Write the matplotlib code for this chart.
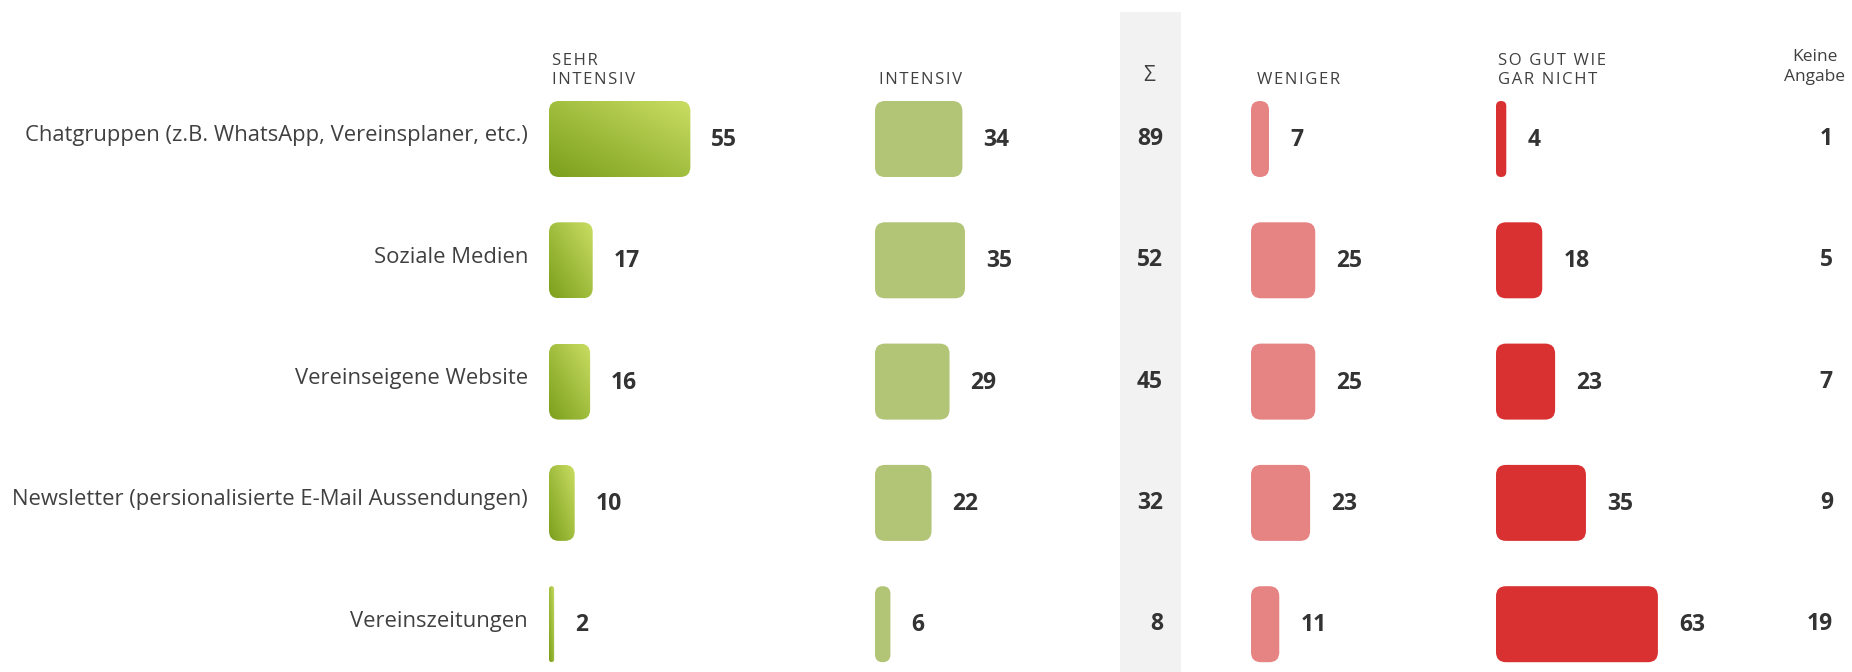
import numpy as np
import matplotlib
matplotlib.use("Agg")
import matplotlib.pyplot as plt
from matplotlib.patches import FancyBboxPatch, Rectangle
from matplotlib.colors import LinearSegmentedColormap
from matplotlib.transforms import blended_transform_factory

# --- data -------------------------------------------------------------
categories = [
    "Chatgruppen (z.B. WhatsApp, Vereinsplaner, etc.)",
    "Soziale Medien",
    "Vereinseigene Website",
    "Newsletter (persionalisierte E-Mail Aussendungen)",
    "Vereinszeitungen",
]
sehr_intensiv = [55, 17, 16, 10, 2]
intensiv = [34, 35, 29, 22, 6]
weniger = [7, 25, 25, 23, 11]
gar_nicht = [4, 18, 23, 35, 63]
keine_angabe = [1, 5, 7, 9, 19]

# --- layout (pixels) --------------------------------------------------
FIG_W, FIG_H = 1852, 672
DPI = 100
ROW_Y0 = 139          # centre of first row from top
ROW_STEP = 121.3
BAR_H = 76
PX_PER_UNIT = 2.57
COL_W = 300
RADIUS = 10

FONT = ["Open Sans", "DejaVu Sans"]
TEXT_DARK = "#333333"
TEXT_LABEL = "#404040"

fig = plt.figure(figsize=(FIG_W / DPI, FIG_H / DPI), dpi=DPI)
fig.patch.set_facecolor("white")


def fx(px):
    return px / FIG_W


def fy(py):
    return 1 - py / FIG_H


def spaced(s):
    return "\u200a".join(s)


# grey band behind the sum column
fig.patches.append(Rectangle((fx(1120), 0), fx(1181) - fx(1120), fy(12),
                             transform=fig.transFigure, facecolor="#f2f2f2",
                             edgecolor="none", zorder=0))

green_grad = LinearSegmentedColormap.from_list("g", ["#7b9f1c", "#c9dd62"])

n = len(categories)
y_top = -ROW_Y0 / ROW_STEP
y_bot = (FIG_H - ROW_Y0) / ROW_STEP
bar_h = BAR_H / ROW_STEP
aspect = PX_PER_UNIT / ROW_STEP


def make_col(left_px):
    ax = fig.add_axes([fx(left_px), 0, COL_W / FIG_W, 1])
    ax.set_xlim(0, COL_W / PX_PER_UNIT)
    ax.set_ylim(y_bot, y_top)
    ax.axis("off")
    ax.patch.set_alpha(0)
    return ax


def draw_bars(ax, values, color=None, gradient=False):
    for i, v in enumerate(values):
        r = min(RADIUS, v * PX_PER_UNIT / 2) / PX_PER_UNIT
        patch = FancyBboxPatch((0, i - bar_h / 2), v, bar_h,
                               boxstyle=f"round,pad=0,rounding_size={r}",
                               mutation_aspect=aspect,
                               facecolor=color if not gradient else "none",
                               edgecolor="none", zorder=2)
        ax.add_patch(patch)
        if gradient:
            u = np.linspace(0, 1, 60)
            uu, vv = np.meshgrid(u, u)
            z = (uu + vv) / 2
            im = ax.imshow(z, cmap=green_grad, origin="lower", aspect="auto",
                           extent=(0, v, i + bar_h / 2, i - bar_h / 2),
                           interpolation="bilinear", zorder=2)
            im.set_clip_path(patch)
        ax.annotate(str(v), xy=(v, i), xytext=(21, -1), textcoords="offset pixels",
                    ha="left", va="center", fontsize=16.5, fontweight="bold",
                    color=TEXT_DARK, family=FONT)
    ax.set_xlim(0, COL_W / PX_PER_UNIT)
    ax.set_ylim(y_bot, y_top)


ax1 = make_col(549)
ax2 = make_col(875)
ax3 = make_col(1251)
ax4 = make_col(1496)

draw_bars(ax1, sehr_intensiv, gradient=True)
draw_bars(ax2, intensiv, color="#b2c476")
draw_bars(ax3, weniger, color="#e68383")
draw_bars(ax4, gar_nicht, color="#d93131")

# category labels
for i, cat in enumerate(categories):
    ax1.annotate(cat, xy=(0, i), xytext=(-21, 3), textcoords="offset pixels",
                 ha="right", va="center", fontsize=15.8, color=TEXT_LABEL,
                 family=FONT)

# sums and "keine Angabe"
row_tf = blended_transform_factory(fig.transFigure, ax1.transData)
sums = [a + b for a, b in zip(sehr_intensiv, intensiv)]
for i, s in enumerate(sums):
    fig.text(fx(1163), i, str(s), transform=row_tf, ha="right", va="center",
             fontsize=16.5, fontweight="bold", color=TEXT_DARK, family=FONT)
for i, k in enumerate(keine_angabe):
    fig.text(fx(1833), i, str(k), transform=row_tf, ha="right", va="center",
             fontsize=16.5, fontweight="bold", color=TEXT_DARK, family=FONT)

# column headers
hdr = dict(fontsize=12, color=TEXT_LABEL, family=FONT,
           va="bottom", linespacing=1.25)
fig.text(fx(552), fy(88), spaced("SEHR") + "\n" + spaced("INTENSIV"), ha="left", **hdr)
fig.text(fx(879), fy(88), spaced("INTENSIV"), ha="left", **hdr)
fig.text(fx(1149), fy(86), "\u03a3", ha="center", fontsize=15, color=TEXT_LABEL,
         family=FONT, va="bottom")
fig.text(fx(1257), fy(88), spaced("WENIGER"), ha="left", **hdr)
fig.text(fx(1498), fy(88), spaced("SO GUT WIE") + "\n" + spaced("GAR NICHT"), ha="left", **hdr)
fig.text(fx(1815), fy(85), "Keine\nAngabe", ha="center", va="bottom",
         fontsize=12.5, color=TEXT_LABEL, family=FONT, linespacing=1.3)

fig.savefig("out.png", dpi=DPI, facecolor="white")
